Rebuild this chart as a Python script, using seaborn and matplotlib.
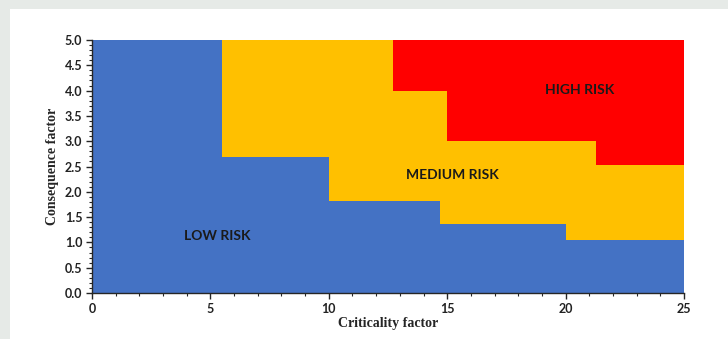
import numpy as np
import pandas as pd
import seaborn as sns
import matplotlib.pyplot as plt
from matplotlib.patches import Rectangle
from matplotlib.ticker import MultipleLocator

# Limites des zones de risque (escaliers, step='post')
low_x = [0, 5.5, 10, 14.7, 20, 25]
low_top = [5.0, 2.68, 1.82, 1.36, 1.05, 1.05]

medium_x = [0, 12.7, 15, 21.3, 25]
medium_top = [5.0, 4.0, 3.0, 2.52, 2.52]

high_x = [0, 25]
high_top = [5.0, 5.0]

zone_labels = ['LOW RISK', 'MEDIUM RISK', 'HIGH RISK']
label_x = [5.3, 15.2, 20.6]
label_y = [1.13, 2.33, 4.02]

colors = {'high': '#FF0000', 'medium': '#FFC000', 'low': '#4472C4'}

sns.set_style('ticks')

fig = plt.figure(figsize=(7.28, 3.39), dpi=100)
fig.patch.set_facecolor('#E6EAE7')
# cadre blanc derriere le graphique
fig.add_artist(Rectangle((10 / 728, 0), 1, 1 - 9 / 339, transform=fig.transFigure,
                         facecolor='white', edgecolor='none', zorder=-10))

ax = fig.add_axes([92 / 728, 1 - 293 / 339, (684 - 92) / 728, (293 - 40) / 339])
ax.set_facecolor('white')

# zones superposees : rouge, puis orange, puis bleu
for xs, ys, c in [(high_x, high_top, colors['high']),
                  (medium_x, medium_top, colors['medium']),
                  (low_x, low_top, colors['low'])]:
    df = pd.DataFrame({'x': xs, 'y': ys})
    ax.fill_between(df['x'], 0, df['y'], step='post', color=c, linewidth=0)

for lab, tx, ty in zip(zone_labels, label_x, label_y):
    ax.text(tx, ty, lab, ha='center', va='center', fontsize=10, fontweight='bold',
            family='Lato', color='#1a1a1a')

ax.set_xlim(0, 25)
ax.set_ylim(0, 5)
ax.xaxis.set_major_locator(MultipleLocator(5))
ax.xaxis.set_minor_locator(MultipleLocator(1))
ax.yaxis.set_major_locator(MultipleLocator(0.5))
ax.yaxis.set_minor_locator(MultipleLocator(0.1))
ax.yaxis.set_major_formatter(plt.FormatStrFormatter('%.1f'))
ax.tick_params(which='major', length=4, width=1, labelsize=9, pad=3)
ax.tick_params(which='minor', length=2.5, width=0.8)
for t in ax.get_xticklabels() + ax.get_yticklabels():
    t.set_fontweight('bold')
    t.set_family('Lato')
    t.set_color('#222222')

sns.despine(ax=ax)
ax.spines['left'].set_linewidth(1)
ax.spines['bottom'].set_linewidth(1)

ax.set_xlabel('Criticality factor', family='Liberation Serif', fontweight='bold',
              fontsize=10, labelpad=2)
ax.set_ylabel('Consequence factor', family='Liberation Serif', fontweight='bold',
              fontsize=10, labelpad=4)

fig.savefig('out.png', dpi=100)
